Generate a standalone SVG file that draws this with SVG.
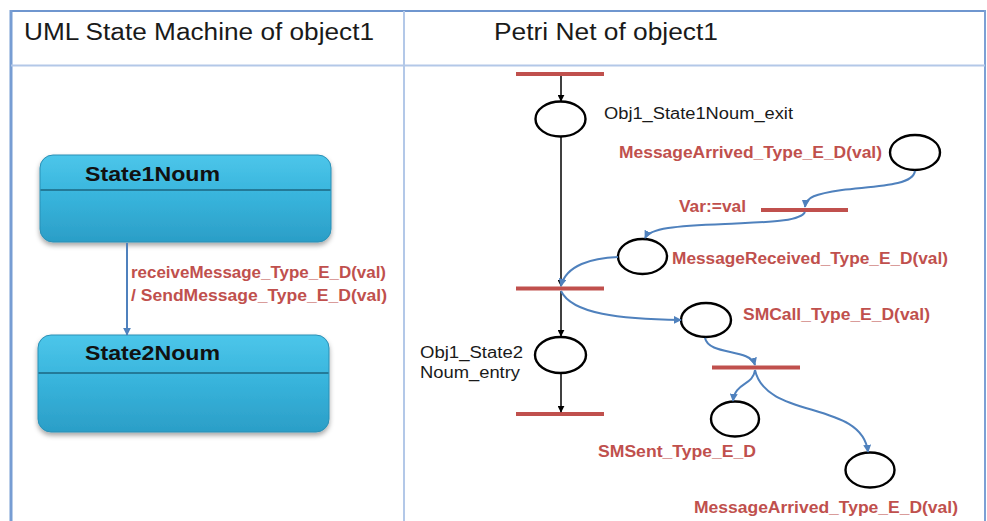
<svg xmlns="http://www.w3.org/2000/svg" width="987" height="521" viewBox="0 0 987 521">
  <style>
    .hdr { font-family: "Liberation Sans", Arial, sans-serif; font-size: 23px; fill: #1a1a1a; }
    .title { font-family: "Liberation Sans", Arial, sans-serif; font-size: 20px; font-weight: bold; fill: #111; }
    .red { font-family: "Liberation Sans", Arial, sans-serif; font-size: 16px; font-weight: bold; fill: #c0504d; }
    .blk { font-family: "Liberation Sans", Arial, sans-serif; font-size: 16px; fill: #1a1a1a; }
    .place { fill: #ffffff; stroke: #000; stroke-width: 2.4; }
    .trans { stroke: #c0504d; stroke-width: 4; }
    .arc { fill: none; stroke: #000; stroke-width: 1.5; marker-end: url(#blackHead); }
    .flow { fill: none; stroke: #4f81bd; stroke-width: 2; marker-end: url(#blueHead); }
    .state { fill: url(#stateFill); stroke: #2a8fb5; stroke-width: 1; filter: url(#shadow); }
    .sep { stroke: #1d6680; stroke-width: 1.5; }
  </style>
  <defs>
    <linearGradient id="stateFill" x1="0" y1="0" x2="0" y2="1">
      <stop offset="0" stop-color="#4cc6ea"/>
      <stop offset="0.5" stop-color="#37b3db"/>
      <stop offset="1" stop-color="#2b9ec7"/>
    </linearGradient>
    <filter id="shadow" x="-10%" y="-10%" width="120%" height="130%">
      <feDropShadow dx="0" dy="3" stdDeviation="2.5" flood-color="#000" flood-opacity="0.35"/>
    </filter>
    <marker id="blackHead" viewBox="0 0 10 10" refX="9" refY="5" markerWidth="7" markerHeight="7" markerUnits="userSpaceOnUse" orient="auto">
      <path d="M0,0 L10,5 L0,10 z" fill="#000"/>
    </marker>
    <marker id="blueHead" viewBox="0 0 10 10" refX="9" refY="5" markerWidth="8" markerHeight="8" markerUnits="userSpaceOnUse" orient="auto">
      <path d="M0,0 L10,5 L0,10 z" fill="#4f81bd"/>
    </marker>
  </defs>

  <!-- table frame -->
  <rect x="0" y="0" width="987" height="521" fill="#ffffff"/>
  <g id="frame">
    <line x1="11" y1="11" x2="985" y2="11" stroke="#6f96cf" stroke-width="2"/>
    <line x1="11" y1="10" x2="11" y2="521" stroke="#779dd3" stroke-width="3"/>
    <line x1="985" y1="10" x2="985" y2="521" stroke="#7ca0d4" stroke-width="2"/>
    <line x1="11" y1="65.5" x2="985" y2="65.5" stroke="#b3c8e8" stroke-width="2"/>
    <line x1="404" y1="11" x2="404" y2="521" stroke="#b3c8e8" stroke-width="2"/>
    <text class="hdr" x="24" y="40" textLength="350" lengthAdjust="spacingAndGlyphs">UML State Machine of object1</text>
    <text class="hdr" x="494" y="40" textLength="224" lengthAdjust="spacingAndGlyphs">Petri Net of object1</text>
  </g>

  <!-- UML state machine -->
  <g id="state1">
    <rect class="state" x="40" y="155" width="291" height="87" rx="13"/>
    <line class="sep" x1="40.5" y1="190" x2="330.5" y2="190"/>
    <text class="title" x="85" y="181" textLength="135" lengthAdjust="spacingAndGlyphs">State1Noum</text>
  </g>
  <g id="state2">
    <rect class="state" x="38" y="335" width="291" height="97" rx="13"/>
    <line class="sep" x1="38.5" y1="373" x2="328.5" y2="373"/>
    <text class="title" x="85" y="360" textLength="135" lengthAdjust="spacingAndGlyphs">State2Noum</text>
  </g>

  <!-- Petri net places -->
  <g id="p_state1_exit">
    <ellipse class="place" cx="560.5" cy="119" rx="25" ry="17.5"/>
    <text class="blk" x="604" y="119" textLength="189" lengthAdjust="spacingAndGlyphs">Obj1_State1Noum_exit</text>
  </g>
  <g id="p_msg_arrived">
    <ellipse class="place" cx="915" cy="152.5" rx="25" ry="17.5"/>
    <text class="red" x="619" y="158" textLength="263" lengthAdjust="spacingAndGlyphs">MessageArrived_Type_E_D(val)</text>
  </g>
  <g id="p_msg_received">
    <ellipse class="place" cx="642.5" cy="256.5" rx="24.5" ry="17.5"/>
    <text class="red" x="672" y="264" textLength="276" lengthAdjust="spacingAndGlyphs">MessageReceived_Type_E_D(val)</text>
  </g>
  <g id="p_smcall">
    <ellipse class="place" cx="706" cy="320" rx="25" ry="17"/>
    <text class="red" x="743" y="320" textLength="187" lengthAdjust="spacingAndGlyphs">SMCall_Type_E_D(val)</text>
  </g>
  <g id="p_state2_entry">
    <ellipse class="place" cx="560.5" cy="355" rx="25.5" ry="18"/>
    <text class="blk" x="420" y="358" textLength="103" lengthAdjust="spacingAndGlyphs">Obj1_State2</text>
    <text class="blk" x="420" y="378" textLength="100" lengthAdjust="spacingAndGlyphs">Noum_entry</text>
  </g>
  <g id="p_smsent">
    <ellipse class="place" cx="735" cy="419" rx="24" ry="17.5"/>
    <text class="red" x="598" y="457" textLength="158" lengthAdjust="spacingAndGlyphs">SMSent_Type_E_D</text>
  </g>
  <g id="p_msg_arrived_out">
    <ellipse class="place" cx="870" cy="470" rx="24.5" ry="17.5"/>
    <text class="red" x="694" y="513" textLength="264" lengthAdjust="spacingAndGlyphs">MessageArrived_Type_E_D(val)</text>
  </g>

  <!-- Petri net transitions -->
  <g id="t_exit"><line class="trans" x1="516" y1="74" x2="604" y2="74"/></g>
  <g id="t_var">
    <line class="trans" x1="761" y1="210" x2="848" y2="210"/>
    <text class="red" x="679" y="212" textLength="67" lengthAdjust="spacingAndGlyphs">Var:=val</text>
  </g>
  <g id="t_fire"><line class="trans" x1="516" y1="288.5" x2="604" y2="288.5"/></g>
  <g id="t_entry"><line class="trans" x1="516" y1="414" x2="604" y2="414"/></g>
  <g id="t_send"><line class="trans" x1="712" y1="367.5" x2="800" y2="367.5"/></g>

  <!-- connectors -->
  <g id="connectors">
    <line class="flow" x1="127" y1="243" x2="127" y2="335"/>
    <text class="red" x="131" y="278" textLength="255" lengthAdjust="spacingAndGlyphs">receiveMessage_Type_E_D(val)</text>
    <text class="red" x="131" y="301" textLength="256" lengthAdjust="spacingAndGlyphs">/ SendMessage_Type_E_D(val)</text>

    <line class="arc" x1="561" y1="76" x2="561" y2="101"/>
    <line class="arc" x1="561" y1="137" x2="561" y2="286"/>
    <line class="arc" x1="561" y1="291" x2="561" y2="336"/>
    <line class="arc" x1="561" y1="373" x2="561" y2="412"/>

    <path class="flow" d="M915,171 C913,186 875,186 842,190 C815,194 806,197 805,207"/>
    <path class="flow" d="M805,212 C800,222 765,222 725,224 C675,226 650,228 645,238"/>
    <path class="flow" d="M618,257 C592,258 566,265 561,286"/>
    <path class="flow" d="M561,291 C572,314 620,319 681,320"/>
    <path class="flow" d="M705,338 C709,356 750,348 755,365"/>
    <path class="flow" d="M755,370 C753,386 735,382 733,401"/>
    <path class="flow" d="M755,370 C766,420 862,400 868,452"/>
  </g>
</svg>
